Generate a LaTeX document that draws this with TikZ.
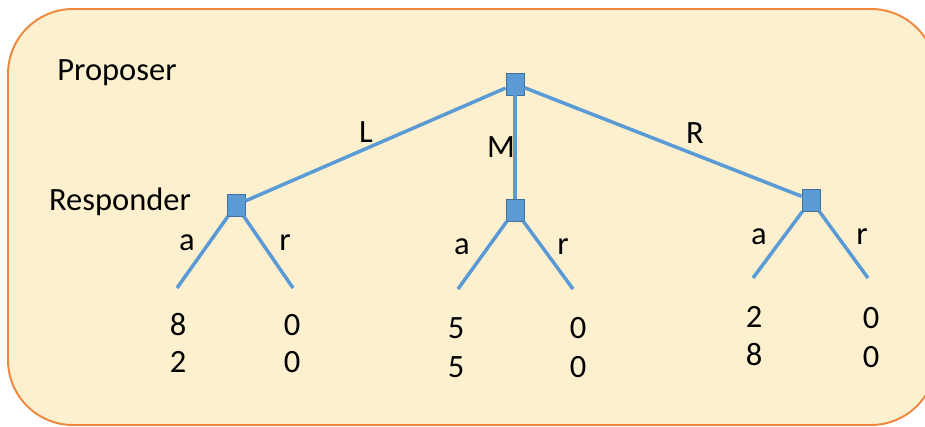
\documentclass[tikz,border=0pt]{standalone}
\usepackage{fontspec}
\setmainfont{Carlito}
\usepackage{tikz}
\usetikzlibrary{positioning}
\definecolor{panelfill}{RGB}{253,240,207}
\definecolor{paneledge}{RGB}{240,135,60}
\definecolor{branch}{RGB}{91,155,213}
\definecolor{branchdark}{RGB}{65,113,156}

\begin{document}
\begin{tikzpicture}[
  x=0.2mm, y=-0.2mm,
  decision/.style={draw=branchdark, fill=branch, line width=0.5pt,
                   minimum width=0.36cm, minimum height=0.44cm, inner sep=0pt},
  move/.style={line width=2pt, branch},
  lbl/.style={font=\fontsize{18.5}{22}\selectfont, inner sep=0pt}
]
  \useasboundingbox (0,0) rectangle (925,427);
  % ── panel ──
  \draw[fill=panelfill, draw=paneledge, line width=1.1pt, rounded corners=1.3cm]
    (8,9) rectangle (936,425);

  % ── players ──
  \node[lbl] (proposer) at (117,73) {Proposer};
  \node[lbl] (responder) at (120,202) {Responder};

  % ── decision points ──
  \node[decision] (root) at (515,84) {};
  \node[decision] (resL) at (236,205) {};
  \node[decision] (resM) at (515,210) {};
  \node[decision] (resR) at (811,200) {};

  % ── leaf ends ──
  \coordinate (laL) at (177,288);
  \coordinate (lrL) at (293,288);
  \coordinate (laM) at (458,289);
  \coordinate (lrM) at (573,289);
  \coordinate (laR) at (753,278);
  \coordinate (lrR) at (868,278);

  \draw[move] (root) -- (resL);
  \draw[move] (root) -- (resM);
  \draw[move] (root) -- (resR);
  \draw[move] (resL) -- (laL);
  \draw[move] (resL) -- (lrL);
  \draw[move] (resM) -- (laM);
  \draw[move] (resM) -- (lrM);
  \draw[move] (resR) -- (laR);
  \draw[move] (resR) -- (lrR);

  % ── move labels ──
  \node[lbl] (mL) at (366,132) {L};
  \node[lbl] (mM) at (501,147) {M};
  \node[lbl] (mR) at (695,133) {R};
  \node[lbl] (aL) at (187,243) {a};
  \node[lbl] (rL) at (285,243) {r};
  \node[lbl] (aM) at (462,247) {a};
  \node[lbl] (rM) at (563,247) {r};
  \node[lbl] (aR) at (759,237) {a};
  \node[lbl] (rR) at (862,237) {r};

  % ── payoffs ──
  \node[lbl] (pLa1) at (178,325) {8};
  \node[lbl] (pLa2) at (178,362) {2};
  \node[lbl] (pLr1) at (292,325) {0};
  \node[lbl] (pLr2) at (292,362) {0};
  \node[lbl] (pMa1) at (456,328) {5};
  \node[lbl] (pMa2) at (456,367) {5};
  \node[lbl] (pMr1) at (578,328) {0};
  \node[lbl] (pMr2) at (578,367) {0};
  \node[lbl] (pRa1) at (754,317) {2};
  \node[lbl] (pRa2) at (754,355) {8};
  \node[lbl] (pRr1) at (871,318) {0};
  \node[lbl] (pRr2) at (871,357) {0};
\end{tikzpicture}
\end{document}
